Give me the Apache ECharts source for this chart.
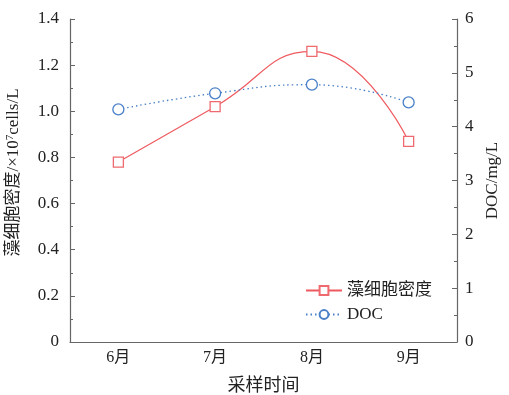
<!DOCTYPE html>
<html><head><meta charset="utf-8">
<script src="https://cdn.jsdelivr.net/npm/echarts@6/dist/echarts.min.js"></script>
<style>html,body{margin:0;padding:0;background:#fff}#c{width:509px;height:395px}</style>
</head><body><div id="c"></div>
<script>
const categories = ['6月','7月','8月','9月'];
const algaeDensity = [0.78, 1.02, 1.26, 0.87];
const doc = [4.32, 4.62, 4.78, 4.45];
const leftTicks = [0, 1.4, 0.2];
const rightTicks = [0, 6, 1];
const FONT = '"Liberation Serif", "Noto Sans CJK SC", serif';
const AX = '#666';
const TXT = '#222';
const chart = echarts.init(document.getElementById('c'));
chart.setOption({
  animation: false,
  textStyle: {fontFamily: FONT},
  grid: {left: 70, right: 52, top: 19, bottom: 53, containLabel: false, outerBoundsMode: 'none'},
  legend: {
    right: 72, top: 277, orient: 'vertical', itemGap: 7,
    itemWidth: 36, itemHeight: 11,
    textStyle: {fontFamily: FONT, fontSize: 17, color: TXT},
    data: ['藻细胞密度', 'DOC']
  },
  xAxis: {
    type: 'category', data: categories, boundaryGap: true,
    name: '采样时间', nameLocation: 'middle', nameGap: 35,
    nameTextStyle: {fontFamily: FONT, fontSize: 18, color: TXT},
    axisLine: {lineStyle: {color: AX, width: 1.2}},
    axisTick: {inside: true, alignWithLabel: true, length: 5, lineStyle: {color: AX}},
    axisLabel: {fontFamily: FONT, fontSize: 16, color: TXT, margin: 8}
  },
  yAxis: [{
    type: 'value', min: leftTicks[0], max: leftTicks[1], interval: leftTicks[2],
    name: '{a|藻细胞密度/×10}{s|7}{a|cells/L}', nameLocation: 'middle', nameGap: 48,
    nameTextStyle: {fontFamily: FONT, fontSize: 17, color: TXT, padding: [0, 0, 0, 16],
      rich: {
        a: {fontFamily: FONT, fontSize: 17, color: TXT},
        s: {fontFamily: FONT, fontSize: 11, color: TXT, verticalAlign: 'top', padding: [0, 0, 6, 0]}
      }},
    axisLine: {show: true, lineStyle: {color: AX, width: 1.2}},
    axisTick: {show: true, inside: true, length: 5, lineStyle: {color: AX}},
    minorTick: {show: true, splitNumber: 2, length: 3, lineStyle: {color: AX}},
    splitLine: {show: false},
    axisLabel: {fontFamily: FONT, fontSize: 17, color: TXT, margin: 11,
      formatter: v => v === 0 ? '0' : v.toFixed(1)}
  }, {
    type: 'value', min: rightTicks[0], max: rightTicks[1], interval: rightTicks[2],
    position: 'right',
    name: 'DOC/mg/L', nameLocation: 'middle', nameGap: 27, nameRotate: 90,
    nameTextStyle: {fontFamily: FONT, fontSize: 17, color: TXT},
    axisLine: {show: true, lineStyle: {color: AX, width: 1.2}},
    axisTick: {show: true, inside: true, length: 5, lineStyle: {color: AX}},
    minorTick: {show: true, splitNumber: 2, length: 3, lineStyle: {color: AX}},
    splitLine: {show: false},
    axisLabel: {fontFamily: FONT, fontSize: 17, color: TXT, margin: 8}
  }],
  series: [{
    name: '藻细胞密度', type: 'line', smooth: 0.5, yAxisIndex: 0,
    data: algaeDensity, symbol: 'rect', symbolSize: 10,
    lineStyle: {color: '#ee5a5f', width: 1.2, type: 'solid'},
    itemStyle: {color: '#fff', borderColor: '#ee6a6f', borderWidth: 1.3},
    color: '#ee5a5f'
  }, {
    name: 'DOC', type: 'line', smooth: 0.5, yAxisIndex: 1,
    data: doc, symbol: 'circle', symbolSize: 11,
    lineStyle: {color: '#4a80c8', width: 1.3, type: [1.5, 3]},
    itemStyle: {color: '#fff', borderColor: '#4a80c8', borderWidth: 1.3},
    color: '#4a80c8'
  }]
});
</script></body></html>
